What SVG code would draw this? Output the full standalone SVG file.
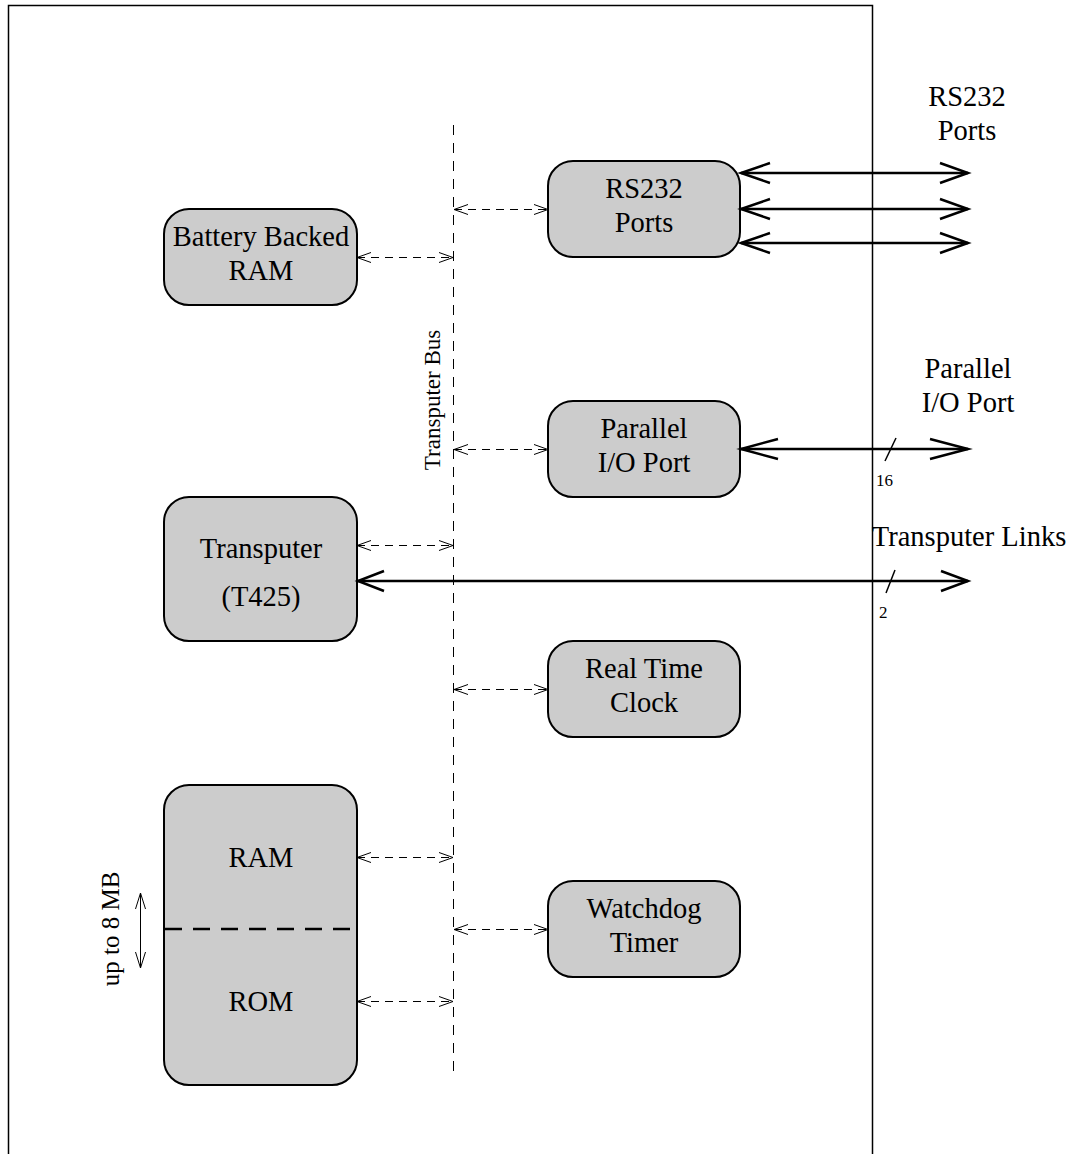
<svg xmlns="http://www.w3.org/2000/svg" width="1075" height="1154" viewBox="0 0 1075 1154">
  <style>
    text { font-family: "Liberation Serif", "Times New Roman", serif; fill: #000; }
    .lbl { font-size: 28.5px; text-anchor: middle; }
    .small { font-size: 17px; }
    .node rect { fill: #cccccc; stroke: #000; stroke-width: 2; }
    .bus { stroke: #000; stroke-width: 1; stroke-dasharray: 10 8; fill: none; }
    .dash { stroke: #000; stroke-width: 1; stroke-dasharray: 8 6; fill: none; }
    .dhead { stroke: #000; stroke-width: 1; fill: none; }
    .link { stroke: #000; stroke-width: 2.5; fill: none; }
    .frame { stroke: #000; stroke-width: 1.5; fill: none; }
  </style>

  <!-- outer board outline -->
  <path class="frame" d="M8.5,1154 V5.5 H872.5 V1154"/>

  <!-- transputer bus -->
  <g id="bus">
    <line class="bus" x1="453.5" y1="125" x2="453.5" y2="1077"/>
    <text class="lbl" style="font-size:23px" transform="translate(440,400) rotate(-90)">Transputer Bus</text>
  </g>

  <!-- nodes -->
  <g id="battery-ram" class="node">
    <rect x="164" y="209" width="193" height="96" rx="25"/>
    <text class="lbl" x="261" y="246">Battery Backed</text>
    <text class="lbl" x="261" y="280">RAM</text>
  </g>
  <g id="rs232" class="node">
    <rect x="548" y="161" width="192" height="96" rx="25"/>
    <text class="lbl" x="644" y="198">RS232</text>
    <text class="lbl" x="644" y="232">Ports</text>
  </g>
  <g id="parallel" class="node">
    <rect x="548" y="401" width="192" height="96" rx="25"/>
    <text class="lbl" x="644" y="438">Parallel</text>
    <text class="lbl" x="644" y="472">I/O Port</text>
  </g>
  <g id="transputer" class="node">
    <rect x="164" y="497" width="193" height="144" rx="25"/>
    <text class="lbl" x="261" y="558">Transputer</text>
    <text class="lbl" x="261" y="606">(T425)</text>
  </g>
  <g id="rtc" class="node">
    <rect x="548" y="641" width="192" height="96" rx="25"/>
    <text class="lbl" x="644" y="678">Real Time</text>
    <text class="lbl" x="644" y="712">Clock</text>
  </g>
  <g id="memory" class="node">
    <rect x="164" y="785" width="193" height="300" rx="25"/>
    <line x1="165" y1="929" x2="356" y2="929" stroke="#000" stroke-width="2.5" stroke-dasharray="17 11"/>
    <text class="lbl" x="261" y="867">RAM</text>
    <text class="lbl" x="261" y="1011">ROM</text>
  </g>
  <g id="watchdog" class="node">
    <rect x="548" y="881" width="192" height="96" rx="25"/>
    <text class="lbl" x="644" y="918">Watchdog</text>
    <text class="lbl" x="644" y="952">Timer</text>
  </g>

  <!-- memory size note -->
  <g id="mem-size">
    <text class="lbl" style="font-size:25px" transform="translate(119,929) rotate(-90)">up to 8 MB</text>
    <line class="dhead" x1="140.5" y1="893" x2="140.5" y2="968"/>
    <path class="dhead" d="M135.5,909 L140.5,893 L145.5,909 M135.5,952 L140.5,968 L145.5,952"/>
  </g>

  <!-- external labels -->
  <g id="ext-labels">
    <text class="lbl" x="967" y="106">RS232</text>
    <text class="lbl" x="967" y="140">Ports</text>
    <text class="lbl" x="968" y="378">Parallel</text>
    <text class="lbl" x="968" y="412">I/O Port</text>
    <text class="lbl" x="969" y="546">Transputer Links</text>
    <text class="small" x="876" y="486">16</text>
    <text class="small" x="879" y="618">2</text>
  </g>

  <!-- connectors -->
  <g id="connectors">
    <!-- bus taps, left side -->
    <g>
      <line class="dash" x1="357" y1="257.5" x2="453" y2="257.5"/>
      <line class="dash" x1="357" y1="545.5" x2="453" y2="545.5"/>
      <line class="dash" x1="357" y1="857.5" x2="453" y2="857.5"/>
      <line class="dash" x1="357" y1="1001.5" x2="453" y2="1001.5"/>
      <path class="dhead" d="M371,252.5 L357,257.5 L371,262.5 M439,252.5 L453,257.5 L439,262.5"/>
      <path class="dhead" d="M371,540.5 L357,545.5 L371,550.5 M439,540.5 L453,545.5 L439,550.5"/>
      <path class="dhead" d="M371,852.5 L357,857.5 L371,862.5 M439,852.5 L453,857.5 L439,862.5"/>
      <path class="dhead" d="M371,996.5 L357,1001.5 L371,1006.5 M439,996.5 L453,1001.5 L439,1006.5"/>
    </g>
    <!-- bus taps, right side -->
    <g>
      <line class="dash" x1="454" y1="209.5" x2="548" y2="209.5"/>
      <line class="dash" x1="454" y1="449.5" x2="548" y2="449.5"/>
      <line class="dash" x1="454" y1="689.5" x2="548" y2="689.5"/>
      <line class="dash" x1="454" y1="929.5" x2="548" y2="929.5"/>
      <path class="dhead" d="M468,204.5 L454,209.5 L468,214.5 M534,204.5 L548,209.5 L534,214.5"/>
      <path class="dhead" d="M468,444.5 L454,449.5 L468,454.5 M534,444.5 L548,449.5 L534,454.5"/>
      <path class="dhead" d="M468,684.5 L454,689.5 L468,694.5 M534,684.5 L548,689.5 L534,694.5"/>
      <path class="dhead" d="M468,924.5 L454,929.5 L468,934.5 M534,924.5 L548,929.5 L534,934.5"/>
    </g>
    <!-- RS232 lines -->
    <g>
      <line class="link" x1="741" y1="173" x2="968" y2="173"/>
      <line class="link" x1="741" y1="209" x2="968" y2="209"/>
      <line class="link" x1="741" y1="243" x2="968" y2="243"/>
      <path class="link" d="M770,163 L741,173 L770,183 M940,163 L968,173 L940,183"/>
      <path class="link" d="M770,199 L741,209 L770,219 M940,199 L968,209 L940,219"/>
      <path class="link" d="M770,233 L741,243 L770,253 M940,233 L968,243 L940,253"/>
    </g>
    <!-- parallel port -->
    <g>
      <line class="link" x1="741" y1="449" x2="968" y2="449"/>
      <path class="link" d="M778,439 L741,449 L778,459 M930,439 L968,449 L930,459"/>
      <line stroke="#000" stroke-width="1.5" x1="885" y1="461" x2="896" y2="438"/>
    </g>
    <!-- transputer links -->
    <g>
      <line class="link" x1="358" y1="581" x2="968" y2="581"/>
      <path class="link" d="M384,571 L358,581 L384,591 M941,571 L968,581 L941,591"/>
      <line stroke="#000" stroke-width="1.5" x1="886" y1="593" x2="895" y2="570"/>
    </g>
  </g>
</svg>
